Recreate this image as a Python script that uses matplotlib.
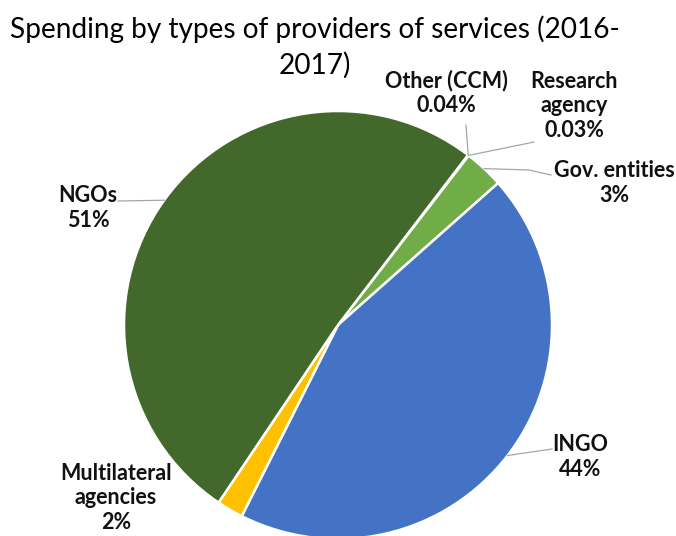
import numpy as np
import matplotlib.pyplot as plt

# spending share by provider type, clockwise from the top-right
providers = ["Other (CCM)", "Research\nagency", "Gov. entities", "INGO",
             "Multilateral\nagencies", "NGOs"]
shares = [0.04, 0.03, 3, 44, 2, 51]
share_labels = ["0.04%", "0.03%", "3%", "44%", "2%", "51%"]
colors = ["#A5A5A5", "#5B9BD5", "#70AD47", "#4472C4", "#FFC000", "#43682B"]
title_lines = ["Spending by types of providers of services (2016-", "2017)"]

W, H = 676, 536
fig = plt.figure(figsize=(W / 100, H / 100), dpi=100)
ax = fig.add_axes([0, 0, 1, 1])

cx, cy, r = 338, H - 325, 214
wedges, _ = ax.pie(shares, colors=colors, startangle=52.6, counterclock=False,
                   center=(cx, cy), radius=r,
                   wedgeprops=dict(edgecolor="white", linewidth=1.8))
ax.set_xlim(0, W)
ax.set_ylim(0, H)
ax.set_aspect("auto")
ax.axis("off")

# label block centres and where each leader line leaves the text (pixels)
label_pos = [(446, H - 93), (574, H - 106), (614, H - 183), (580, H - 457),
             (116, H - 498), (88, H - 208)]
leader_start = [(466, H - 125), (534, H - 142), (551, H - 175), (552, H - 449),
                None, (118, H - 201)]

lbl_font = dict(family=["Lato", "DejaVu Sans"], fontsize=15.5, fontweight="bold")
for w, name, pct, pos, start in zip(wedges, providers, share_labels,
                                    label_pos, leader_start):
    ax.text(pos[0], pos[1], f"{name}\n{pct}", ha="center", va="center",
            linespacing=1.2, color="#111111", **lbl_font)
    if start is None:
        continue
    mid = np.deg2rad((w.theta1 + w.theta2) / 2)
    ex, ey = cx + r * np.cos(mid), cy + r * np.sin(mid)
    if name == "Gov. entities":
        pts_x = [start[0], start[0] - 22, ex]
        pts_y = [start[1], start[1] + 5, ey]
    else:
        pts_x = [start[0], ex]
        pts_y = [start[1], ey]
    ax.plot(pts_x, pts_y, color="#A6A6A6", linewidth=0.9)

# title wraps onto a second line, each line centred on the same x
for line, y_px in zip(title_lines, (29, 65)):
    fig.text(315 / W, 1 - y_px / H, line, ha="center", va="center",
             fontsize=20.2, family=["Lato", "DejaVu Sans"], color="black")

fig.savefig("out.png", dpi=100)
